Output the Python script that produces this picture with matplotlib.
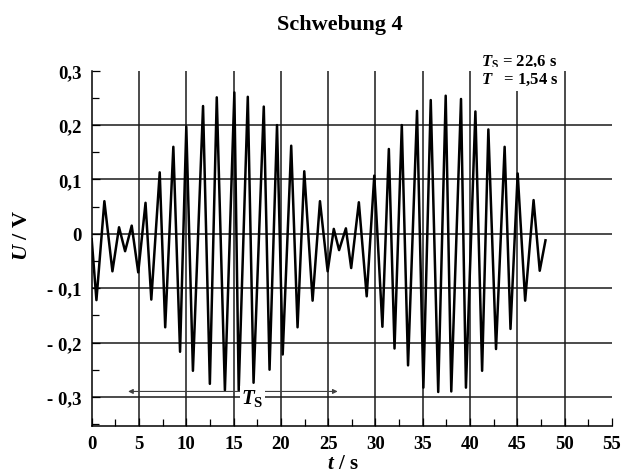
import matplotlib
matplotlib.use("Agg")
import matplotlib.pyplot as plt
from matplotlib.ticker import MultipleLocator, FixedLocator

# ---- data ----
t_s = [0.00, 0.50, 1.34, 2.19, 2.89, 3.53, 4.23, 4.92, 5.69, 6.30,
       7.19, 7.77, 8.63, 9.34, 10.00, 10.70, 11.77, 12.49, 13.22, 14.08,
       15.08, 15.54, 16.50, 17.11, 18.19, 18.80, 19.59, 20.19, 21.09, 21.76,
       22.47, 23.35, 24.13, 24.94, 25.59, 26.15, 26.87, 27.43, 28.24, 29.07,
       29.87, 30.73, 31.41, 32.01, 32.78, 33.44, 34.39, 35.06, 35.84, 36.63,
       37.42, 38.01, 39.04, 39.56, 40.56, 41.27, 41.93, 42.74, 43.65, 44.27,
       45.03, 45.82, 46.71, 47.36, 47.97]
U_V = [-0.010, -0.122, 0.060, -0.069, 0.012, -0.032, 0.015, -0.071, 0.057, -0.121,
       0.113, -0.172, 0.160, -0.217, 0.197, -0.252, 0.235, -0.276, 0.251, -0.288,
       0.260, -0.288, 0.252, -0.274, 0.234, -0.250, 0.200, -0.222, 0.162, -0.172,
       0.115, -0.123, 0.060, -0.069, 0.009, -0.030, 0.010, -0.063, 0.058, -0.115,
       0.107, -0.171, 0.156, -0.211, 0.200, -0.242, 0.226, -0.283, 0.246, -0.291,
       0.254, -0.290, 0.248, -0.283, 0.225, -0.252, 0.192, -0.212, 0.160, -0.175,
       0.111, -0.123, 0.062, -0.068, -0.012]

x_ticks = [0, 5, 10, 15, 20, 25, 30, 35, 40, 45, 50, 55]
x_ticklabels = ["0", "5", "10", "15", "20", "25", "30", "35", "40", "45", "50", "55"]
y_ticks = [-0.3, -0.2, -0.1, 0.0, 0.1, 0.2, 0.3]
y_ticklabels = ["- 0,3", "- 0,2", "- 0,1", "0", "0,1", "0,2", "0,3"]
x_grid = [5, 10, 15, 20, 25, 30, 35, 40, 45, 50]
y_grid = [-0.3, -0.2, -0.1, 0.0, 0.1, 0.2]

ts_start, ts_end = 3.85, 26.0   # T_S arrow ends

# ---- styling ----
FONT = "Liberation Serif"
plt.rcParams["font.family"] = [FONT, "DejaVu Serif"]
plt.rcParams["font.weight"] = "bold"
plt.rcParams["mathtext.fontset"] = "custom"
plt.rcParams["mathtext.rm"] = FONT + ":bold"
plt.rcParams["mathtext.bf"] = FONT + ":bold"
plt.rcParams["mathtext.it"] = FONT + ":bold:italic"

W, H = 636, 477
fig = plt.figure(figsize=(W / 100, H / 100), dpi=100)
left, right, top, bottom = 91.7, 612.0, 71.7, 426.7
ax = fig.add_axes([left / W, 1 - bottom / H, (right - left) / W, (bottom - top) / H])

ax.set_xlim(0, 55)
ax.set_ylim(-0.353, 0.30)

for g in y_grid:
    ax.axhline(g, color="#1a1a1a", lw=1.1, zorder=1)
for g in x_grid:
    ax.axvline(g, color="#1a1a1a", lw=1.1, zorder=1)

ax.plot(t_s, U_V, color="black", lw=1.8, zorder=3)

# T_S arrow
ax.annotate("", xy=(ts_start, -0.290), xytext=(ts_end, -0.290),
            arrowprops=dict(arrowstyle="<|-|>", lw=0.8, color="0.25",
                            mutation_scale=7, shrinkA=0, shrinkB=0), zorder=4)
ax.text(17.0, -0.302, r"$T_\mathrm{S}$", ha="center", va="center", fontsize=15,
        zorder=5, bbox=dict(facecolor="white", edgecolor="none", pad=1.0))

for s in ["top", "right"]:
    ax.spines[s].set_visible(False)
for s in ["left", "bottom"]:
    ax.spines[s].set_linewidth(1.1)

ax.xaxis.set_major_locator(FixedLocator(x_ticks))
ax.set_xticklabels(x_ticklabels)
ax.xaxis.set_minor_locator(MultipleLocator(2.5))
ax.yaxis.set_major_locator(FixedLocator(y_ticks))
ax.set_yticklabels(y_ticklabels)
ax.yaxis.set_minor_locator(MultipleLocator(0.05))
ax.tick_params(which="both", direction="in", width=0.9, top=False, right=False)
ax.tick_params(which="major", length=6)
ax.tick_params(which="minor", length=5)
ax.tick_params(axis="x", which="major", pad=7, labelsize=13.5)
ax.tick_params(axis="y", which="major", pad=7.5, labelsize=13.5)

fig.text(340 / W, 1 - 25 / H, "Schwebung 4", ha="center", va="center",
         fontsize=16, fontweight="bold")
fig.text(22 / W, 1 - 235 / H, r"$U$ / V", ha="center", va="center",
         rotation=90, fontsize=16)
fig.text(343 / W, 1 - 464 / H, r"$t$ / s", ha="center", va="center", fontsize=15)

fig.text(481 / W, 1 - 62 / H, r"$T_\mathrm{S}$ = 22,6 s", ha="left", va="center",
         fontsize=12)
fig.text(481 / W, 1 - 80 / H, r"$T$   = 1,54 s", ha="left", va="center",
         fontsize=12, bbox=dict(facecolor="white", edgecolor="none", pad=2.5))

fig.savefig("out.png", dpi=100)
